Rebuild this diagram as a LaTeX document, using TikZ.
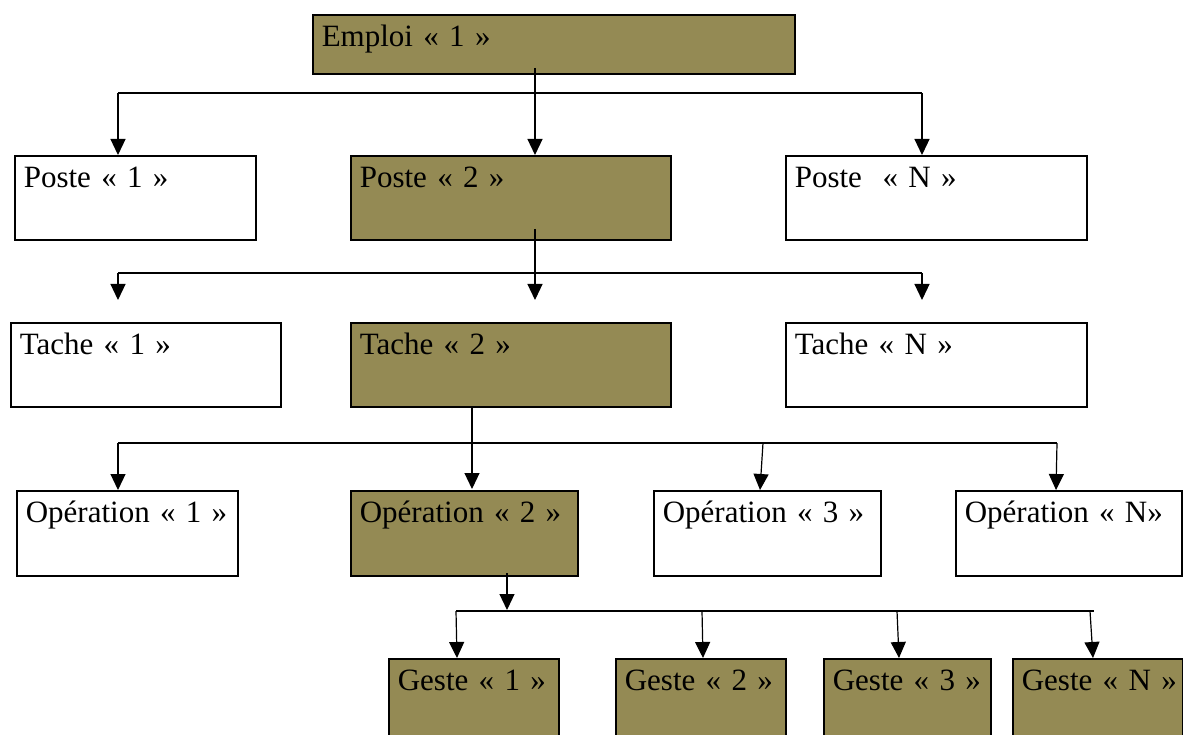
\documentclass[tikz,border=0pt]{standalone}
\usepackage{fontspec}
\setmainfont{Liberation Serif}
\usetikzlibrary{arrows.meta}
\definecolor{olivebox}{RGB}{148,138,84}
\begin{document}
\begin{tikzpicture}[x=1pt,y=-1pt,
  box/.style={draw=black, line width=1.6pt, inner xsep=9pt, inner ysep=0pt,
    align=left, anchor=north west, text height=32pt,
    font=\fontsize{31}{36}\selectfont},
  ol/.style={box, fill=olivebox},
  wt/.style={box, fill=white},
  bus/.style={line width=1.2pt, draw=black},
  arr/.style={line width=1.2pt, draw=black, -{Triangle[length=16pt,width=15pt]}}]
\useasboundingbox (0,0) rectangle (1183,735);
\clip (0,0) rectangle (1183,735);
\fill[white] (0,0) rectangle (1183,735);
% level 0
\node[ol, text width=464pt, text depth=27pt] (emp) at (312,14) {Emploi « 1 »};
% level 1
\node[wt, text width=223pt, text depth=52pt] (p1) at (14,155) {Poste « 1 »};
\node[ol, text width=302pt, text depth=52pt] (p2) at (350,155) {Poste « 2 »};
\node[wt, text width=283pt, text depth=52pt] (pN) at (785,155) {Poste\ \ « N »};
% level 2
\node[wt, text width=252pt, text depth=52pt] (t1) at (10,322) {Tache « 1 »};
\node[ol, text width=302pt, text depth=52pt] (t2) at (350,322) {Tache « 2 »};
\node[wt, text width=283pt, text depth=52pt] (tN) at (785,322) {Tache « N »};
% level 3
\node[wt, text width=203pt, text depth=53pt] (o1) at (16,490) {\mbox{Opération « 1 »}};
\node[ol, text width=209pt, text depth=53pt] (o2) at (350,490) {\mbox{Opération « 2 »}};
\node[wt, text width=209pt, text depth=53pt] (o3) at (653,490) {\mbox{Opération « 3 »}};
\node[wt, text width=208pt, text depth=53pt] (oN) at (955,490) {\mbox{Opération « N»}};
% level 4
\node[ol, text width=152pt, text depth=70pt] (g1) at (388,658) {\mbox{Geste « 1 »}};
\node[ol, text width=152pt, text depth=70pt] (g2) at (615,658) {\mbox{Geste « 2 »}};
\node[ol, text width=149pt, text depth=70pt] (g3) at (823,658) {\mbox{Geste « 3 »}};
\node[ol, text width=152pt, text depth=70pt] (gN) at (1012,658) {\mbox{Geste « N »}};
% connectors level 0 -> 1
\coordinate (s0) at (535,68);
\coordinate (b1l) at (118,93);
\coordinate (b1r) at (922,93);
\draw[arr] (s0) -- (s0 |- p2.north);
\draw[bus] (b1l) -- (b1r);
\draw[arr] (b1l) -- (b1l |- p1.north);
\draw[arr] (b1r) -- (b1r |- pN.north);
% connectors level 1 -> 2
\coordinate (s1) at (535,229);
\coordinate (e1) at (535,300);
\coordinate (b2l) at (118,273);
\coordinate (b2r) at (922,273);
\coordinate (e2l) at (118,300);
\coordinate (e2r) at (922,300);
\draw[arr] (s1) -- (e1);
\draw[bus] (b2l) -- (b2r);
\draw[arr] (b2l) -- (e2l);
\draw[arr] (b2r) -- (e2r);
% connectors level 2 -> 3
\coordinate (s2) at (472,407);
\coordinate (e3) at (472,489);
\coordinate (b3l) at (118,443);
\coordinate (b3m) at (763,443);
\coordinate (b3r) at (1057,443);
\coordinate (e3l) at (118,490);
\coordinate (e3m) at (760,490);
\coordinate (e3r) at (1056,490);
\draw[arr] (s2) -- (e3);
\draw[bus] (b3l) -- (b3r);
\draw[arr] (b3l) -- (e3l);
\draw[arr] (b3m) -- (e3m);
\draw[arr] (b3r) -- (e3r);
% connectors level 3 -> 4
\coordinate (s3) at (507,573);
\coordinate (e4) at (507,610);
\coordinate (b4a) at (456,611);
\coordinate (b4b) at (702,611);
\coordinate (b4c) at (897,611);
\coordinate (b4d) at (1090,611);
\coordinate (b4e) at (1094,611);
\coordinate (e4a) at (457,658);
\coordinate (e4b) at (703,658);
\coordinate (e4c) at (899,658);
\coordinate (e4d) at (1093,658);
\draw[arr] (s3) -- (e4);
\draw[bus] (b4a) -- (b4e);
\draw[arr] (b4a) -- (e4a);
\draw[arr] (b4b) -- (e4b);
\draw[arr] (b4c) -- (e4c);
\draw[arr] (b4d) -- (e4d);
\end{tikzpicture}
\end{document}
